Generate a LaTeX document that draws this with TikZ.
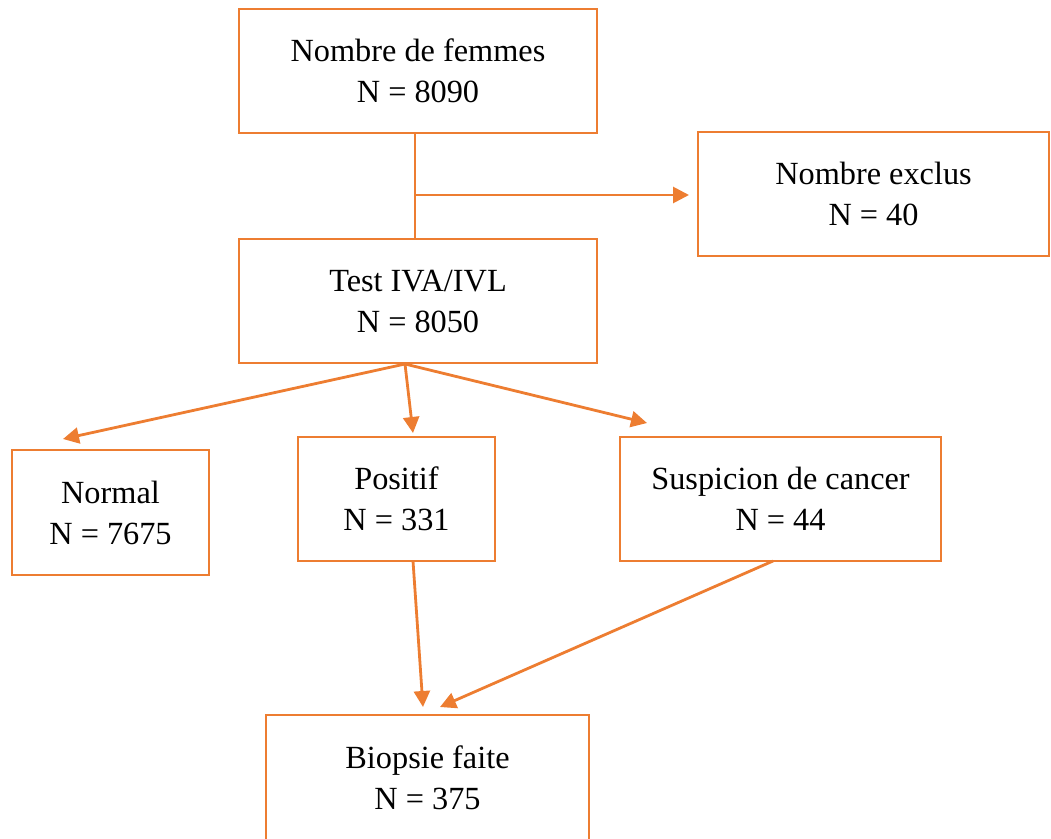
\documentclass[tikz,border=0pt]{standalone}
\usepackage{fontspec}
\setmainfont{Liberation Serif}
\usetikzlibrary{arrows.meta}
\definecolor{orng}{HTML}{ED7D31}
\tikzset{
  box/.style={draw=orng, line width=2.8pt, rectangle, align=center, inner sep=0pt,
    font=\fontsize{32.3}{41}\selectfont},
  conn/.style={draw=orng, line width=2.8pt},
  arr/.style={conn, -{Triangle[length=16pt,width=16pt]}}
}
\begin{document}
\begin{tikzpicture}[x=1pt,y=-1pt]
\useasboundingbox (0,0) rectangle (1051,838);
\node[box, minimum width=358pt, minimum height=124pt] (top) at (418,71) {Nombre de femmes\\N = 8090};
\node[box, minimum width=351pt, minimum height=124pt] (excl) at (873.5,194) {Nombre exclus\\N = 40};
\node[box, minimum width=358pt, minimum height=124pt] (test) at (418,301) {Test IVA/IVL\\N = 8050};
\node[box, minimum width=197pt, minimum height=125pt] (normal) at (110.5,512.5) {Normal\\N = 7675};
\node[box, minimum width=197pt, minimum height=124pt] (positif) at (396.5,499) {Positif\\N = 331};
\node[box, minimum width=321pt, minimum height=124pt] (susp) at (780.5,499) {Suspicion de cancer\\N = 44};
\node[box, minimum width=323pt, minimum height=126pt] (biop) at (427.5,778) {Biopsie faite\\N = 375};
% coordinates
\coordinate (topb) at (415,133);
\coordinate (testt) at (415,239);
\coordinate (mid) at (415,195);
\coordinate (exclt) at (689,195);
\coordinate (t0) at (405,364);
\coordinate (nt) at (63,439);
\coordinate (pt) at (413,433);
\coordinate (st) at (647,423);
\coordinate (pb) at (413,561);
\coordinate (sb) at (773,561);
\coordinate (b1) at (423,707);
\coordinate (b2) at (440,707);
\draw[conn] (topb) -- (testt);
\draw[arr] (mid) -- (exclt);
\draw[arr] (t0) -- (nt);
\draw[arr] (t0) -- (pt);
\draw[arr] (t0) -- (st);
\draw[arr] (pb) -- (b1);
\draw[arr] (sb) -- (b2);
\end{tikzpicture}
\end{document}
